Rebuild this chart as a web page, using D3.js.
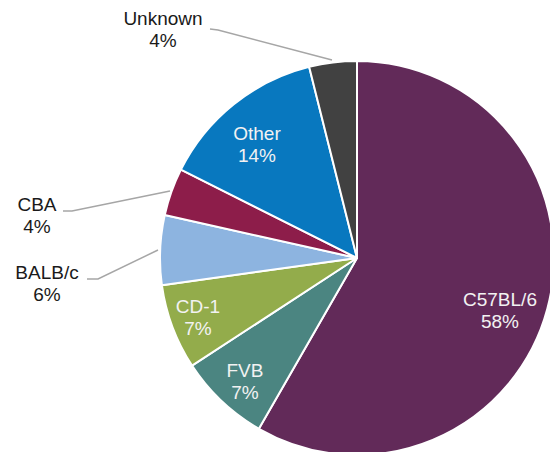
<!DOCTYPE html>
<html><head><meta charset="utf-8">
<script src="https://cdn.jsdelivr.net/npm/d3@7"></script>
<style>html,body{margin:0;padding:0;background:#fff;overflow:hidden}</style>
</head><body>
<svg id="chart" width="550" height="452"></svg>
<script>
const categories = ["C57BL/6","FVB","CD-1","BALB/c","CBA","Other","Unknown"];
const values = [58.3, 7.5, 7.0, 5.7, 3.9, 13.7, 3.9];
const pctLabels = ["58%","7%","7%","6%","4%","14%","4%"];
const colors = ["#622a59","#4b8581","#93ac4b","#8db4e0","#8d1d4a","#0878bf","#414141"];

const svg = d3.select("#chart");
const cx = 357, cy = 258, R = 197;
const g = svg.append("g").attr("transform", `translate(${cx},${cy})`);
const pie = d3.pie().sort(null).value(d => d)(values);
const arc = d3.arc().innerRadius(0).outerRadius(R);
g.selectAll("path").data(pie).join("path")
  .attr("d", arc).attr("fill", (d,i) => colors[i])
  .attr("stroke", "#fff").attr("stroke-width", 2).attr("stroke-linejoin","round");

// label placement (inside / outside)
const labelPos = {
  "C57BL/6": {x:500, y:306, inside:true},
  "FVB": {x:245, y:377, inside:true},
  "CD-1": {x:198, y:313, inside:true},
  "Other": {x:257, y:140, inside:true},
  "BALB/c": {x:47, y:279, inside:false, line:[[87,279],[98,279],[158,250]]},
  "CBA": {x:37, y:211, inside:false, line:[[63,211],[72,211],[170,191]]},
  "Unknown": {x:163, y:25, inside:false, line:[[210,29],[218,30],[332,60]]}
};
categories.forEach((c,i) => {
  const p = labelPos[c];
  if (p.line) {
    svg.append("path").attr("d", d3.line()(p.line))
      .attr("fill","none").attr("stroke","#a6a6a6").attr("stroke-width",1.5);
  }
  const t = svg.append("text").attr("x", p.x).attr("y", p.y)
    .attr("text-anchor","middle")
    .style("font-family","'Liberation Sans', Arial, sans-serif")
    .style("font-size","19px")
    .attr("fill", p.inside ? "#f2f2f2" : "#1a1a1a");
  t.append("tspan").attr("x", p.x).text(c);
  t.append("tspan").attr("x", p.x).attr("dy", 22).text(pctLabels[i]);
});
</script>
</body></html>
